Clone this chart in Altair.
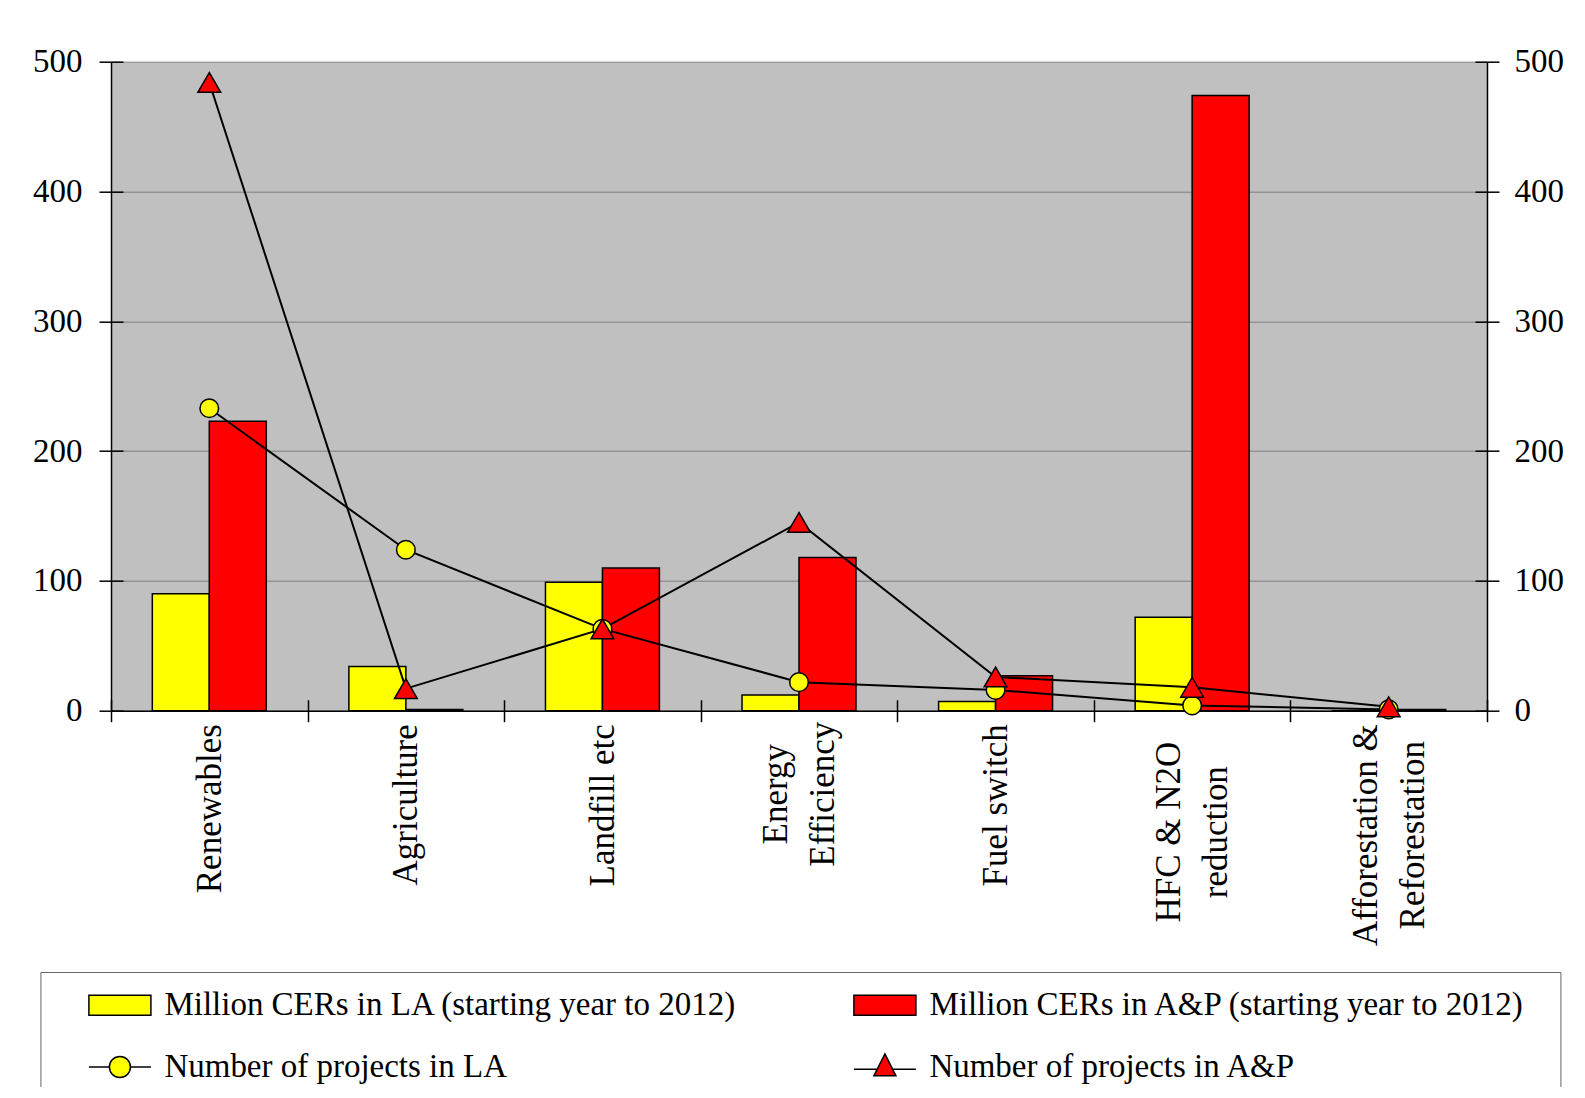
import json
import altair as alt
import pandas as pd

# ---------------- data ----------------
categories = ["Renewables", "Agriculture", "Landfill etc", "Energy Efficiency",
              "Fuel switch", "HFC & N2O reduction", "Afforestation & Reforestation"]
label_lines = [["Renewables"], ["Agriculture"], ["Landfill etc"], ["Energy", "Efficiency"],
               ["Fuel switch"], ["HFC & N2O", "reduction"], ["Afforestation &", "Reforestation"]]
cers_la = [90, 34, 99, 12, 7, 72, 0]
cers_ap = [223, 1, 110, 118, 27, 474, 1]
proj_la = [233, 124, 63, 22, 16, 4, 1]
proj_ap = [484, 17, 63, 145, 26, 18, 3]

# legend entries (column-major order: left column first, then right column)
legend_labels = ["Million CERs in LA (starting year to 2012)",
                 "Number of projects in LA",
                 "Million CERs in A&P (starting year to 2012)",
                 "Number of projects in A&P"]
YELLOW = "#FFFF00"
RED = "#FF0000"
legend_colors = [YELLOW, YELLOW, RED, RED]
legend_paths = [
    "M-2,-0.65H2V0.65H-2Z",
    "M-2,0H-0.68M0.68,0H2M0.68,0A0.68,0.68 0 1 1 -0.68,0A0.68,0.68 0 1 1 0.68,0Z",
    "M-2,-0.65H2V0.65H-2Z",
    "M-2,0.15H-0.5M0.5,0.15H2M0,-0.85L0.71,0.57L-0.71,0.57Z",
]

# ---------------- tables ----------------
bar_rows = []
for c, a, b in zip(categories, cers_la, cers_ap):
    bar_rows.append({"category": c, "series": "LA", "value": a, "col": YELLOW})
    bar_rows.append({"category": c, "series": "A&P", "value": b, "col": RED})
bars_df = pd.DataFrame(bar_rows)

pt_rows = []
for c, v in zip(categories, proj_la):
    pt_rows.append({"category": c, "series": "LA", "value": v, "col": YELLOW, "shp": "circle", "sz": 346})
for c, v in zip(categories, proj_ap):
    pt_rows.append({"category": c, "series": "A&P", "value": v, "col": RED, "shp": "triangle-up", "sz": 520})
pts_df = pd.DataFrame(pt_rows)

legend_df = pd.DataFrame({"entry": legend_labels, "value": [0] * len(legend_labels)})

# multi-line category labels
expr = "datum.label"
multi = []
for name, lines in zip(categories, label_lines):
    if len(lines) > 1:
        expr = f"datum.label == {json.dumps(name)} ? {json.dumps(lines)} : ({expr})"
        multi.append(name)
multi_test = " || ".join(f"datum.value == {json.dumps(n)}" for n in multi)

pad_conditions = [
    {"test": f"datum.value == {json.dumps('Energy Efficiency')}", "value": 72},
    {"test": f"datum.value == {json.dumps('HFC & N2O reduction')}", "value": 110},
    {"test": f"datum.value == {json.dumps('Afforestation & Reforestation')}", "value": 113},
]

FONT = "Liberation Serif"

x_axis = alt.Axis(title=None, orient="bottom", labelAngle=270, tickBand="extent", tickSize=11,
                  labelPadding={"condition": pad_conditions, "value": 2},
                  labelAlign={"condition": {"test": multi_test, "value": "center"}, "value": "right"},
                  labelOffset={"condition": {"test": multi_test, "value": -23.5}, "value": 0},
                  labelFontSize=35, labelLineHeight=47, labelLimit=400, labelExpr=expr,
                  domainColor="black", domainWidth=1.5, tickColor="black", tickWidth=1.5,
                  labelColor="black", labelFont=FONT, labelOverlap=False, grid=False)
# inner half of the crossing tick marks
x_inner = alt.Axis(title=None, orient="bottom", tickBand="extent", tickSize=11, offset=-11,
                   labels=False, domain=False, grid=False, tickColor="black", tickWidth=1.5)

x_sort = dict(sort=categories, scale=alt.Scale(paddingInner=0, paddingOuter=0))

y_scale = alt.Scale(domain=[0, 500], nice=False, zero=True)
ticks = [0, 100, 200, 300, 400, 500]
y_left = alt.Axis(orient="left", values=ticks, tickSize=12, labelPadding=17, labelFontSize=33,
                  labelFont=FONT, labelColor="black", grid=True, gridColor="#808080", gridWidth=1,
                  domainColor="black", domainWidth=1.5, tickColor="black", tickWidth=1.5, title=None)
y_right = alt.Axis(orient="right", values=ticks, tickSize=12, labelPadding=15, labelFontSize=33,
                   labelFont=FONT, labelColor="black", grid=False,
                   domainColor="black", domainWidth=1.5, tickColor="black", tickWidth=1.5, title=None)
y_left_inner = alt.Axis(orient="left", values=ticks, tickSize=12, offset=-12, labels=False,
                        domain=False, grid=False, tickColor="black", tickWidth=1.5, title=None)
y_right_inner = alt.Axis(orient="right", values=ticks, tickSize=12, offset=-12, labels=False,
                         domain=False, grid=False, tickColor="black", tickWidth=1.5, title=None)

bars = alt.Chart(bars_df).mark_bar(stroke="black", strokeWidth=1.5).encode(
    x=alt.X("category:N", axis=x_axis, **x_sort),
    xOffset=alt.XOffset("series:N", sort=["LA", "A&P"],
                        scale=alt.Scale(paddingInner=0, paddingOuter=0.725)),
    y=alt.Y("value:Q", scale=y_scale, axis=y_left),
    fill=alt.Fill("col:N", scale=None),
)

lines = alt.Chart(pts_df).mark_line(color="black", strokeWidth=2).encode(
    x=alt.X("category:N", axis=None, **x_sort),
    y=alt.Y("value:Q", scale=y_scale, axis=y_right),
    detail="series:N",
)

points = alt.Chart(pts_df).mark_point(filled=True, stroke="black", strokeWidth=1.5, opacity=1).encode(
    x=alt.X("category:N", axis=x_inner, **x_sort),
    y=alt.Y("value:Q", scale=y_scale, axis=y_left_inner),
    fill=alt.Fill("col:N", scale=None),
    shape=alt.Shape("shp:N", scale=None),
    size=alt.Size("sz:Q", scale=None),
)

leg = alt.Legend(title=".", titleOrient="right", titleOpacity=0, titleFontSize=2, titlePadding=17,
                 orient="none", legendX=-70.6, legendY=910.3, columns=2,
                 padding=16.5, rowPadding=28, columnPadding=84, symbolOffset=46.5, labelOffset=28,
                 symbolSize=961, symbolStrokeColor="black", symbolStrokeWidth=1.5,
                 labelFont=FONT, labelFontSize=33, labelColor="black", labelLimit=1000,
                 strokeColor="#666666", fillColor="white", cornerRadius=0)

legend_layer = alt.Chart(legend_df).mark_point(filled=True, size=961, stroke="black",
                                               strokeWidth=1.5, opacity=1).encode(
    y=alt.Y("value:Q", scale=y_scale, axis=y_right_inner),
    fill=alt.Fill("entry:N", scale=alt.Scale(domain=legend_labels, range=legend_colors), legend=leg),
    shape=alt.Shape("entry:N", scale=alt.Scale(domain=legend_labels, range=legend_paths), legend=leg),
).transform_filter("false")

chart = alt.layer(bars, lines, points, legend_layer).resolve_axis(
    x="independent", y="independent"
).properties(
    width=1376, height=649,
    autosize=alt.AutoSizeParams(type="none"),
    padding={"left": 103, "top": 53.7, "right": 90, "bottom": 376},
    background="white",
).configure_view(fill="#C0C0C0", stroke="transparent")

chart.save("out.html", embed_options={"renderer": "svg", "actions": False})
